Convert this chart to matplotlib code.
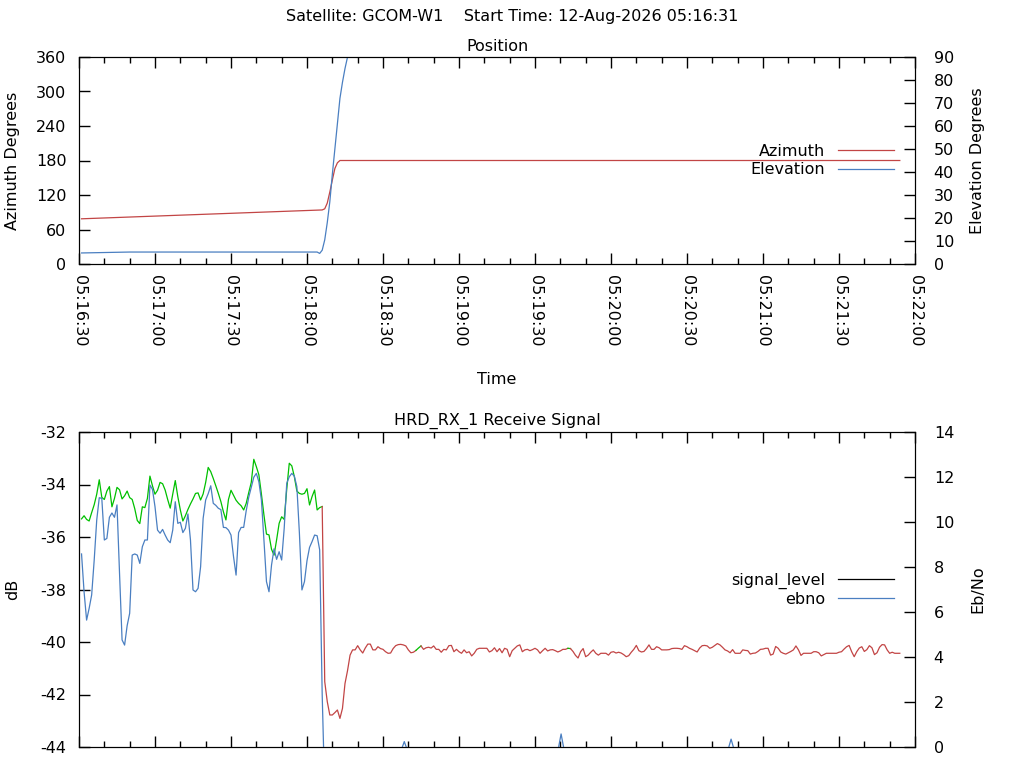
import datetime as dt
import matplotlib
matplotlib.use('Agg')
import matplotlib.pyplot as plt
import matplotlib.dates as mdates
from matplotlib.lines import Line2D
import numpy as np

plt.rcParams['font.family'] = ['DejaVu Sans']
plt.rcParams['font.size'] = 11.5
plt.rcParams['axes.unicode_minus'] = False

START = dt.datetime(2026, 8, 12, 5, 16, 30)
END = dt.datetime(2026, 8, 12, 5, 22, 0)

# --- position (seconds after 05:16:30) ---
az_t = [1, 96, 97, 98, 99, 100, 101, 102, 103, 324]
az_deg = [78.6, 94.0, 96.0, 106.0, 125.0, 146.0, 166.0, 176.0, 180.0, 180.0]
el_t = [1, 20, 94, 95, 96, 97, 98, 99, 100, 101, 102, 103, 104, 105, 106, 107, 108]
el_deg = [4.8, 5.2, 5.2, 4.6, 6.0, 10.5, 18.0, 27.0, 39.0, 50.0, 61.0, 72.0,
          79.0, 85.0, 90.0, 95.0, 99.0]

# --- receive signal, one sample per second starting 05:16:31 ---
sig_locked = [
    -35.31, -35.19, -35.33, -35.39, -35.07, -34.77, -34.37, -33.82, -34.49, -34.57,
    -34.25, -34.08, -34.85, -34.53, -34.11, -34.20, -34.55, -34.43, -34.25, -34.50,
    -34.57, -34.92, -35.37, -35.49, -34.85, -34.88, -34.53, -33.68, -34.05, -34.37,
    -34.22, -33.92, -33.97, -34.21, -34.57, -34.90, -34.37, -33.85, -34.46, -34.97,
    -35.39, -35.19, -34.95, -34.74, -34.55, -34.34, -34.32, -34.59, -34.36, -33.92,
    -33.35, -33.51, -33.77, -34.05, -34.34, -34.65, -35.04, -35.35, -34.57, -34.22,
    -34.41, -34.60, -34.72, -34.81, -34.97, -34.72, -34.31, -33.92, -33.04, -33.32,
    -33.63, -34.36, -35.16, -35.89, -35.92, -36.47, -36.69, -36.11, -35.48, -35.23,
    -35.33, -34.18, -33.19, -33.29, -33.70, -34.25, -34.34, -34.37, -34.34, -34.16,
    -34.78, -34.46, -34.21, -34.97, -34.88, -34.84,
]
sig_drop = [-41.51, -42.27, -42.78, -42.78, -42.69, -42.59, -42.91, -42.53, -41.58,
            -41.09, -40.50, -40.30, -40.30, -40.14]
sig_tail = [
    -40.30, -40.42, -40.23, -40.08, -40.08, -40.30, -40.30, -40.18, -40.25, -40.28,
    -40.37, -40.43, -40.42, -40.25, -40.14, -40.10, -40.09, -40.11, -40.15, -40.30,
    -40.41, -40.39, -40.32, -40.23, -40.15, -40.28, -40.22, -40.20, -40.23, -40.15,
    -40.28, -40.28, -40.39, -40.28, -40.30, -40.14, -40.13, -40.37, -40.28, -40.37,
    -40.43, -40.30, -40.41, -40.37, -40.53, -40.43, -40.28, -40.24, -40.24, -40.24,
    -40.24, -40.38, -40.33, -40.22, -40.37, -40.25, -40.41, -40.24, -40.28, -40.56,
    -40.33, -40.24, -40.15, -40.11, -40.37, -40.30, -40.28, -40.33, -40.29, -40.24,
    -40.30, -40.43, -40.33, -40.24, -40.34, -40.30, -40.29, -40.33, -40.38, -40.34,
    -40.28, -40.28, -40.24, -40.25, -40.36, -40.51, -40.61, -40.37, -40.25, -40.56,
    -40.50, -40.39, -40.30, -40.43, -40.50, -40.43, -40.43, -40.43, -40.50, -40.39,
    -40.37, -40.42, -40.39, -40.42, -40.48, -40.56, -40.52, -40.39, -40.28, -40.13,
    -40.33,
    -40.38, -40.36, -40.25, -40.11, -40.28, -40.28, -40.18, -40.22, -40.30,
    -40.30, -40.30, -40.29, -40.25, -40.24, -40.24, -40.25, -40.28, -40.14, -40.18,
    -40.24, -40.28, -40.33, -40.38, -40.23, -40.14, -40.13, -40.15, -40.24, -40.20,
    -40.13, -40.06, -40.11, -40.20, -40.30, -40.34, -40.41, -40.29, -40.43, -40.43,
    -40.43, -40.30, -40.32, -40.33, -40.46, -40.43, -40.42, -40.36, -40.28, -40.27,
    -40.24, -40.24, -40.50, -40.46, -40.17, -40.24, -40.38, -40.43, -40.46, -40.41,
    -40.36, -40.30, -40.15, -40.30, -40.51, -40.43, -40.43, -40.43, -40.43, -40.37,
    -40.37, -40.41, -40.53, -40.48, -40.43, -40.43, -40.43, -40.43, -40.43, -40.39,
    -40.37, -40.27, -40.18, -40.13, -40.37, -40.56, -40.37, -40.23, -40.18, -40.36,
    -40.29, -40.14, -40.22, -40.48, -40.41, -40.20, -40.10, -40.11, -40.30, -40.43,
    -40.39, -40.43, -40.43, -40.43,
]
lock_spans = [(1, 96), (133, 135), (193, 194)]

ebno_locked = [
    8.58, 6.90, 5.64, 6.16, 6.76, 8.31, 10.09, 11.08, 11.05, 9.20,
    9.27, 10.21, 10.40, 10.21, 10.76, 7.72, 4.76, 4.53, 5.39, 5.94,
    8.53, 8.58, 8.53, 8.16, 8.90, 9.20, 9.20, 11.64, 11.45, 10.68,
    9.64, 9.50, 9.67, 9.42, 9.20, 9.08, 9.64, 10.90, 9.94, 9.99,
    9.53, 9.72, 10.36, 9.20, 6.98, 6.90, 7.05, 8.01, 10.16, 10.98,
    11.26, 11.61, 10.83, 10.74, 10.61, 10.55, 9.76, 9.75, 9.64, 9.42,
    8.46, 7.64, 9.53, 9.76, 9.76, 10.50, 11.10, 11.54, 11.99, 12.16,
    11.79, 10.98, 9.20, 7.35, 6.90, 8.09, 8.81, 8.34, 8.68, 8.31,
    9.72, 11.72, 12.01, 12.16, 12.04, 11.57, 9.50, 6.98, 7.35, 8.28,
    8.87, 9.13, 9.42, 9.39, 8.76, 2.31,
]
ebno_tail_t = [97, 127, 128.4, 129.8, 189, 190.3, 191.6, 256, 257.4, 258.8, 324]
ebno_tail = [-2.0, -0.2, 0.24, -0.2, -0.2, 0.58, -0.2, -0.2, 0.35, -0.2, -2.0]

RED = '#c24545'
BLUE = '#4a7fc1'
GREEN = '#00c000'


def to_time(secs):
    return [START + dt.timedelta(seconds=float(s)) for s in secs]


def style_time_axis(ax, labels=True):
    ax.set_xlim(START, END)
    ax.xaxis.set_major_locator(mdates.SecondLocator(bysecond=[0, 30]))
    ax.xaxis.set_minor_locator(mdates.SecondLocator(bysecond=[10, 20, 40, 50]))
    ax.xaxis.set_major_formatter(mdates.DateFormatter('%H:%M:%S'))
    ax.tick_params(axis='x', which='major', direction='in', length=8, width=1,
                   top=True, pad=8, labelbottom=labels)
    ax.tick_params(axis='x', which='minor', direction='in', length=4, width=1,
                   top=True)
    if labels:
        plt.setp(ax.get_xticklabels(), rotation=-90, ha='center', va='top')


fig = plt.figure(figsize=(10.24, 7.68), dpi=100)
fig.text(0.5, 1 - 17 / 768,
         'Satellite: GCOM-W1    Start Time: 12-Aug-2026 05:16:31',
         ha='center', va='center')

# ---------------- Position ----------------
ax1 = fig.add_axes([79 / 1024, 1 - 264 / 768, 836 / 1024, 207 / 768])
ax1r = ax1.twinx()
l_az, = ax1.plot(to_time(az_t), az_deg, color=RED, lw=0.9)
l_el, = ax1r.plot(to_time(el_t), el_deg, color=BLUE, lw=0.9)
ax1.set_ylim(0, 360)
ax1.set_yticks(np.arange(0, 361, 60))
ax1r.set_ylim(0, 90)
ax1r.set_yticks(np.arange(0, 91, 10))
style_time_axis(ax1)
ax1.tick_params(axis='y', direction='in', length=8, width=1, pad=9)
ax1r.tick_params(axis='y', direction='in', length=8, width=1, pad=13.5)
ax1.set_title('Position', pad=4, fontsize=11.5)
ax1.set_ylabel('Azimuth Degrees')
ax1.yaxis.set_label_coords(-0.070, 0.5)
ax1r.set_ylabel('Elevation Degrees')
ax1r.yaxis.set_label_coords(1.066, 0.5)
ax1.set_xlabel('Time')
ax1.xaxis.set_label_coords(0.5, -0.522)
ax1r.legend([l_az, l_el], ['Azimuth', 'Elevation'], loc='center right',
            bbox_to_anchor=(0.975, 0.5), frameon=False, markerfirst=False,
            handlelength=3.5, handletextpad=0.8, labelspacing=0.2,
            borderaxespad=0, borderpad=0)

# ---------------- Receive signal ----------------
ax2 = fig.add_axes([79 / 1024, 1 - 747 / 768, 836 / 1024, 315 / 768])
ax2r = ax2.twinx()

sig = sig_locked + sig_drop + sig_tail
sig_t = np.arange(1, len(sig) + 1)


def locked(t):
    return any(a <= t <= b for a, b in lock_spans)


seg_col = [GREEN if locked(sig_t[i]) and locked(sig_t[i + 1]) else RED
           for i in range(len(sig) - 1)]
i0 = 0
for i in range(1, len(seg_col) + 1):
    if i == len(seg_col) or seg_col[i] != seg_col[i0]:
        ax2.plot(to_time(sig_t[i0:i + 1]), sig[i0:i + 1], color=seg_col[i0], lw=0.9)
        i0 = i

ebno_t = list(np.arange(1, len(ebno_locked) + 1)) + ebno_tail_t
ebno = ebno_locked + ebno_tail
ax2r.plot(to_time(ebno_t), ebno, color=BLUE, lw=0.9)

ax2.set_ylim(-44, -32)
ax2.set_yticks(np.arange(-44, -31, 2))
ax2r.set_ylim(0, 14)
ax2r.set_yticks(np.arange(0, 15, 2))
style_time_axis(ax2, labels=False)
ax2.tick_params(axis='y', direction='in', length=8, width=1, pad=9)
ax2r.tick_params(axis='y', direction='in', length=8, width=1, pad=13.5)
ax2.set_title('HRD_RX_1 Receive Signal', pad=5, fontsize=11.5)
ax2.set_ylabel('dB')
ax2.yaxis.set_label_coords(-0.070, 0.5)
ax2r.set_ylabel('Eb/No')
ax2r.yaxis.set_label_coords(1.066, 0.5)
ax2r.legend([Line2D([], [], color='black', lw=0.9), Line2D([], [], color=BLUE, lw=0.9)],
            ['signal_level', 'ebno'], loc='center right',
            bbox_to_anchor=(0.975, 0.5), frameon=False, markerfirst=False,
            handlelength=3.5, handletextpad=0.8, labelspacing=0.2,
            borderaxespad=0, borderpad=0)

fig.savefig('out.png', dpi=100)
